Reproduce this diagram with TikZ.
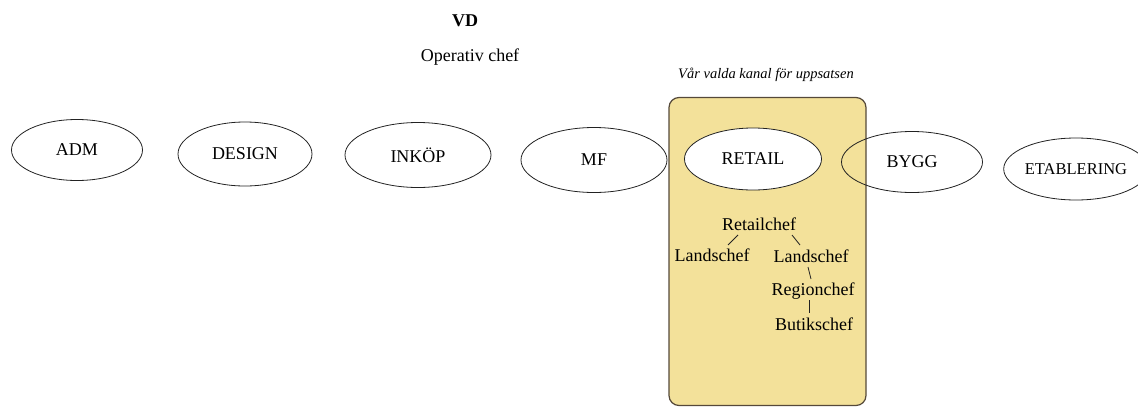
\documentclass[tikz,border=0pt]{standalone}
\usepackage{fontspec}
\setmainfont{Liberation Serif}
\usetikzlibrary{shapes.geometric}
\definecolor{boxfill}{HTML}{F3E19A}
\definecolor{boxline}{HTML}{55493A}
\definecolor{inkline}{HTML}{222222}
\begin{document}
\begin{tikzpicture}[x=1pt,y=-1pt,
  dept/.style={ellipse,draw=inkline,line width=0.8pt,inner sep=0pt,font=\fontsize{18}{20}\selectfont},
  rank/.style={anchor=base,inner sep=0pt,font=\fontsize{18}{20}\selectfont},
  link/.style={draw=inkline,line width=0.8pt}]
\useasboundingbox (0,0) rectangle (1138,407);
% channel box
\node[draw=boxline,fill=boxfill,line width=1.2pt,rounded corners=10pt,minimum width=197pt,minimum height=308pt,inner sep=0pt] (chan) at (767.5,251.5) {};
\node[font=\itshape\fontsize{14.5}{16}\selectfont,inner sep=0pt] (chanlbl) at (766,75) {Vår valda kanal för uppsatsen};
% headings
\node[font=\bfseries\fontsize{18}{20}\selectfont,inner sep=0pt] (vd) at (465,21) {VD};
\node[font=\fontsize{18}{20}\selectfont,inner sep=0pt] (op) at (470,57) {Operativ chef};
% departments
\node[dept,minimum width=131pt,minimum height=61pt] (adm) at (77,150) {ADM};
\node[dept,minimum width=134pt,minimum height=64pt] (design) at (245,154) {DESIGN};
\node[dept,minimum width=146pt,minimum height=65pt] (inkop) at (418,155) {INKÖP};
\node[dept,minimum width=146pt,minimum height=65pt] (mf) at (594,160) {MF};
\node[dept,fill=white,minimum width=137pt,minimum height=62pt] (retail) at (753,159) {RETAIL};
\node[dept,minimum width=141pt,minimum height=61pt] (bygg) at (912,162) {BYGG};
\node[dept,minimum width=122pt,minimum height=62pt,font=\fontsize{16.5}{18}\selectfont] (etab) at (1076,169) {ETABLERING};
% retail hierarchy
\node[rank] (rc) at (759,230) {Retailchef};
\node[rank] (l1) at (712,261) {Landschef};
\node[rank] (l2) at (811,262) {Landschef};
\node[rank] (rg) at (813,295) {Regionchef};
\node[rank] (bc) at (814,330) {Butikschef};
\draw[link] ([shift={(-21,5)}]rc.base) -- ([shift={(16,-16)}]l1.base);
\draw[link] ([shift={(33,5)}]rc.base) -- ([shift={(-11,-17)}]l2.base);
\draw[link] ([shift={(-3,5)}]l2.base) -- ([shift={(-2,-16)}]rg.base);
\draw[link] ([shift={(-4,5)}]rg.base) -- ([shift={(-5,-17)}]bc.base);
\end{tikzpicture}
\end{document}
